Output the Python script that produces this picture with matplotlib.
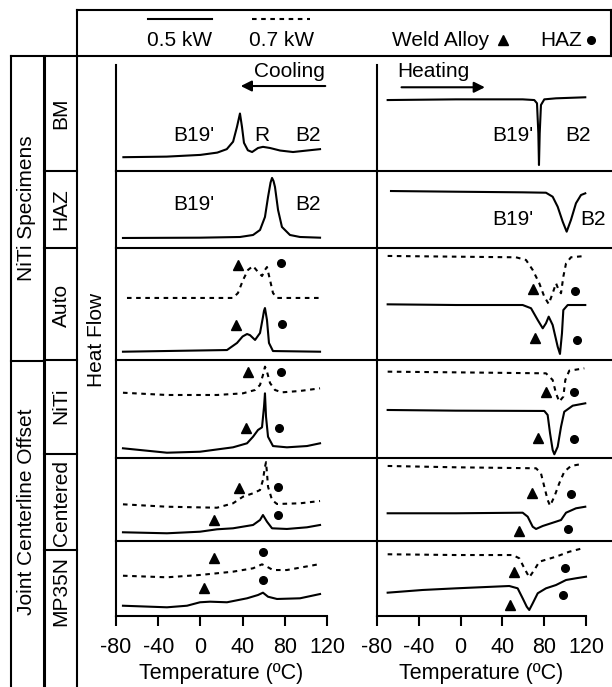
import matplotlib
matplotlib.use("Agg")
import matplotlib.pyplot as plt
from matplotlib.lines import Line2D

plt.rcParams["font.family"] = ["Liberation Sans", "DejaVu Sans"]
plt.rcParams["font.size"] = 15
plt.rcParams["axes.unicode_minus"] = False

# ---- data: temperature (ºC) and relative heat flow (0..1 of the panel) ----
rows = ["BM", "HAZ", "Auto", "NiTi", "Centered", "MP35N"]
temp_ticks = [-80, -40, 0, 40, 80, 120]

# cooling
cool_bm_T = [-73, -32, 0, 16, 25, 31, 34.7, 37.5, 39.4, 41.3, 45, 49, 54.6, 59.3, 66, 75.5, 87.8, 101, 113.4]
cool_bm_q = [0.12, 0.125, 0.14, 0.16, 0.19, 0.255, 0.385, 0.50, 0.385, 0.245, 0.18, 0.165, 0.2, 0.21, 0.2, 0.178, 0.165, 0.178, 0.19]
cool_haz_T = [-73.4, -0.4, 37.5, 49.9, 56.5, 61.2, 64.1, 66.5, 67.9, 69.3, 70.7, 73.6, 77.3, 84.9, 94.4, 113.4]
cool_haz_q = [0.13, 0.134, 0.143, 0.169, 0.234, 0.403, 0.662, 0.85, 0.91, 0.87, 0.792, 0.494, 0.273, 0.169, 0.143, 0.134]
cool_auto7_T = [-69.6, 30.9, 35.6, 40.4, 45.1, 49.9, 54.6, 58.4, 61.2, 63.1, 66, 68.8, 72.6, 113.4]
cool_auto7_q = [0.554, 0.554, 0.598, 0.714, 0.804, 0.839, 0.786, 0.75, 0.804, 0.83, 0.714, 0.598, 0.554, 0.554]
cool_auto5_T = [-73.4, 25.2, 34.7, 40, 44.2, 47, 51.8, 56.5, 59.3, 60.3, 61.2, 63.1, 65, 68.8, 113.4]
cool_auto5_q = [0.074, 0.089, 0.152, 0.21, 0.232, 0.222, 0.179, 0.241, 0.384, 0.44, 0.464, 0.357, 0.152, 0.08, 0.074]
cool_niti7_T = [-73.4, -31.7, 15.7, 40.4, 51.8, 56.5, 59.3, 61.2, 63.1, 66, 70.7, 77.3, 94.4, 113.4]
cool_niti7_q = [0.666, 0.643, 0.643, 0.66, 0.694, 0.745, 0.847, 0.932, 0.881, 0.765, 0.694, 0.67, 0.684, 0.711]
cool_niti5_T = [-73.4, -31.7, -0.4, 30.9, 44.2, 49.9, 54.6, 58.4, 60.3, 61.2, 62.2, 64.1, 68.8, 82, 101, 113.4]
cool_niti5_q = [0.099, 0.054, 0.064, 0.109, 0.15, 0.217, 0.286, 0.313, 0.523, 0.66, 0.421, 0.217, 0.122, 0.109, 0.122, 0.15]
cool_cent7_T = [-73.4, -31.7, 15.7, 30.9, 40.4, 49.9, 56.5, 59.3, 61, 62.2, 63.1, 64.1, 67.9, 72.6, 94.4, 113.4]
cool_cent7_q = [0.442, 0.413, 0.401, 0.454, 0.534, 0.575, 0.614, 0.735, 0.88, 0.95, 0.82, 0.654, 0.494, 0.446, 0.454, 0.482]
cool_cent5_T = [-73.4, -31.7, -0.4, 15.7, 30.9, 49.9, 56.5, 59.3, 63.1, 67.9, 82, 101, 113.4]
cool_cent5_q = [0.105, 0.093, 0.112, 0.141, 0.153, 0.193, 0.253, 0.313, 0.233, 0.153, 0.145, 0.165, 0.193]
cool_mp7_T = [-73.4, -31.7, -0.4, 30.9, 49.9, 58.4, 63.1, 68.8, 82, 113.4]
cool_mp7_q = [0.537, 0.516, 0.547, 0.591, 0.636, 0.689, 0.657, 0.613, 0.613, 0.693]
cool_mp5_T = [-73.4, -31.7, -12.7, -0.4, 9.1, 25.2, 44.2, 54.6, 59.3, 64.1, 72.6, 94.4, 113.4]
cool_mp5_q = [0.137, 0.116, 0.137, 0.183, 0.191, 0.183, 0.236, 0.28, 0.311, 0.257, 0.227, 0.236, 0.293]

# heating
heat_bm_T = [-69.8, -4.4, 59.4, 70.5, 73.1, 74.4, 75, 75.7, 76.9, 80.1, 91.3, 119.3]
heat_bm_q = [0.617, 0.623, 0.623, 0.617, 0.589, 0.328, 0.052, 0.328, 0.574, 0.623, 0.632, 0.641]
heat_haz_T = [-66.6, -4.4, 59.4, 81.7, 88.1, 92.9, 97.7, 101.5, 105.6, 110.4, 115.2, 119.3]
heat_haz_q = [0.74, 0.731, 0.723, 0.718, 0.666, 0.536, 0.342, 0.212, 0.364, 0.581, 0.688, 0.71]
heat_auto7_T = [-69.8, 53, 62.6, 69, 75.3, 80.1, 84.3, 88.1, 91.3, 93.9, 96.1, 98.3, 100.9, 105.6, 119.3]
heat_auto7_q = [0.929, 0.917, 0.893, 0.804, 0.685, 0.565, 0.5, 0.596, 0.685, 0.625, 0.596, 0.744, 0.863, 0.917, 0.929]
heat_auto5_T = [-69.8, -4.4, 59.4, 67.4, 73.8, 78.6, 81.7, 84.3, 88.1, 92.9, 95.1, 97, 98.3, 102.5, 119.3]
heat_auto5_q = [0.497, 0.491, 0.491, 0.462, 0.357, 0.283, 0.328, 0.387, 0.3125, 0.119, 0.054, 0.238, 0.446, 0.491, 0.491]
heat_niti7_T = [-69.8, -4.4, 81.7, 88.1, 91.3, 94.4, 98.3, 100.2, 104, 118.4]
heat_niti7_q = [0.881, 0.874, 0.864, 0.796, 0.66, 0.575, 0.626, 0.796, 0.891, 0.915]
heat_niti5_T = [-69.8, -4.4, 80.1, 83.3, 85.6, 88.1, 89.7, 92.9, 96.1, 99.2, 107.3, 119.3]
heat_niti5_q = [0.49, 0.483, 0.48, 0.439, 0.252, 0.082, 0.038, 0.115, 0.319, 0.472, 0.534, 0.558]
heat_cent7_T = [-69.8, -4.4, 72.2, 76.9, 80.1, 83.3, 85.6, 89.7, 94.4, 99.2, 105.6, 114.3]
heat_cent7_q = [0.904, 0.888, 0.876, 0.816, 0.654, 0.494, 0.425, 0.534, 0.695, 0.835, 0.904, 0.924]
heat_cent5_T = [-69.8, -4.4, 59.4, 64.2, 69, 72.2, 78.6, 91.3, 96.1, 100.9, 110.4, 119.3]
heat_cent5_q = [0.334, 0.334, 0.341, 0.293, 0.172, 0.145, 0.181, 0.233, 0.253, 0.341, 0.394, 0.413]
heat_mp7_T = [-69.8, -4.4, 49.9, 56.2, 61, 65.7, 70.5, 75.3, 91.3, 104, 116.8]
heat_mp7_q = [0.823, 0.813, 0.813, 0.769, 0.636, 0.516, 0.613, 0.724, 0.791, 0.857, 0.903]
heat_mp5_T = [-69.8, -36.3, -4.4, 46.6, 54.6, 59.4, 63.3, 65.7, 69, 73.8, 81.7, 91.3, 100.9, 110.4, 120]
heat_mp5_q = [0.311, 0.347, 0.369, 0.4, 0.369, 0.236, 0.124, 0.08, 0.169, 0.303, 0.369, 0.413, 0.48, 0.503, 0.524]

# weld alloy (triangle) and HAZ (circle) markers: (T, q)
cool_tri = {"Auto": [(35.6, 0.848), (33.7, 0.313)], "NiTi": [(45.1, 0.874), (42.9, 0.303)],
            "Centered": [(36.9, 0.642), (13.2, 0.253)], "MP35N": [(13.2, 0.769), (3.7, 0.369)]}
cool_dot = {"Auto": [(76.4, 0.866), (77.3, 0.321)], "NiTi": [(76.4, 0.874), (74.5, 0.309)],
            "Centered": [(73.3, 0.654), (73.3, 0.313)], "MP35N": [(59.7, 0.849), (59.7, 0.48)]}
heat_tri = {"Auto": [(69, 0.631), (71.5, 0.194)], "NiTi": [(81.7, 0.677), (73.8, 0.201)],
            "Centered": [(68.3, 0.575), (56.2, 0.124)], "MP35N": [(50.8, 0.583), (47.3, 0.147)]}
heat_dot = {"Auto": [(109.5, 0.616), (111.1, 0.179)], "NiTi": [(108.2, 0.677), (108.2, 0.194)],
            "Centered": [(105.6, 0.563), (102.5, 0.148)], "MP35N": [(99.9, 0.636), (97.7, 0.28)]}

cool_curves = {
    "BM": [(cool_bm_T, cool_bm_q, "-")],
    "HAZ": [(cool_haz_T, cool_haz_q, "-")],
    "Auto": [(cool_auto7_T, cool_auto7_q, "--"), (cool_auto5_T, cool_auto5_q, "-")],
    "NiTi": [(cool_niti7_T, cool_niti7_q, "--"), (cool_niti5_T, cool_niti5_q, "-")],
    "Centered": [(cool_cent7_T, cool_cent7_q, "--"), (cool_cent5_T, cool_cent5_q, "-")],
    "MP35N": [(cool_mp7_T, cool_mp7_q, "--"), (cool_mp5_T, cool_mp5_q, "-")],
}
heat_curves = {
    "BM": [(heat_bm_T, heat_bm_q, "-")],
    "HAZ": [(heat_haz_T, heat_haz_q, "-")],
    "Auto": [(heat_auto7_T, heat_auto7_q, "--"), (heat_auto5_T, heat_auto5_q, "-")],
    "NiTi": [(heat_niti7_T, heat_niti7_q, "--"), (heat_niti5_T, heat_niti5_q, "-")],
    "Centered": [(heat_cent7_T, heat_cent7_q, "--"), (heat_cent5_T, heat_cent5_q, "-")],
    "MP35N": [(heat_mp7_T, heat_mp7_q, "--"), (heat_mp5_T, heat_mp5_q, "-")],
}
cool_text = {"BM": [("B19'", -6.7, 0.313), ("R", 58.1, 0.313), ("B2", 102.3, 0.313)],
             "HAZ": [("B19'", -6.7, 0.571), ("B2", 102.3, 0.571)]}
heat_text = {"BM": [("B19'", 49.9, 0.313), ("B2", 112.1, 0.313)],
             "HAZ": [("B19'", 49.9, 0.364), ("B2", 127, 0.364)]}

# ---- layout (pixels) ----
W, H = 612, 687
fig = plt.figure(figsize=(W / 100, H / 100), dpi=100)

def fx(x):
    return x / W

def fy(y):
    return 1 - y / H

def hline(y, x0, x1, lw=1.5):
    fig.add_artist(Line2D([fx(x0), fx(x1)], [fy(y), fy(y)], color="black", lw=lw))

def vline(x, y0, y1, lw=1.5):
    fig.add_artist(Line2D([fx(x), fx(x)], [fy(y0), fy(y1)], color="black", lw=lw))

row_edges = [56, 171, 248, 360, 458, 541, 616]
col_x = [(116, 327), (377, 586)]
dash = (0, (2.2, 2.2))

for j, (curves, tris, dots, texts) in enumerate([(cool_curves, cool_tri, cool_dot, cool_text),
                                                (heat_curves, heat_tri, heat_dot, heat_text)]):
    x0, x1 = col_x[j]
    for i, name in enumerate(rows):
        y0, y1 = row_edges[i], row_edges[i + 1]
        ax = fig.add_axes([fx(x0), fy(y1), (x1 - x0) / W, (y1 - y0) / H])
        ax.set_xlim(-80, 120)
        ax.set_ylim(0, 1)
        ax.patch.set_visible(False)
        for s in ["top", "right", "bottom"]:
            ax.spines[s].set_visible(False)
        ax.spines["left"].set_linewidth(1.5)
        ax.set_yticks([])
        if i == 0:
            ax.spines["left"].set_bounds(0, (y1 - 65) / (y1 - y0))
        for T, q, ls in curves[name]:
            ax.plot(T, q, color="black", lw=1.5, linestyle=ls if ls == "-" else dash, clip_on=False)
        for T, q in tris.get(name, []):
            ax.plot(T, q, marker="^", color="black", ms=7.5, clip_on=False)
        for T, q in dots.get(name, []):
            ax.plot(T, q, marker="o", color="black", ms=5.5, clip_on=False)
        for s, T, q in texts.get(name, []):
            ax.text(T, q, s, ha="center", va="center")
        if i == 0:
            if j == 0:
                ax.text(118, 0.861, "Cooling", ha="right", va="center")
                ax.annotate("", xy=(35.6, 0.739), xytext=(121, 0.739),
                            arrowprops=dict(arrowstyle="-|>", color="black", lw=1.5, mutation_scale=16))
            else:
                ax.text(-60.2, 0.861, "Heating", ha="left", va="center")
                ax.annotate("", xy=(25.9, 0.728), xytext=(-59.2, 0.728),
                            arrowprops=dict(arrowstyle="-|>", color="black", lw=1.5, mutation_scale=16))
        if i == len(rows) - 1:
            ax.spines["bottom"].set_visible(True)
            ax.spines["bottom"].set_linewidth(1.5)
            ax.set_xticks(temp_ticks)
            ax.tick_params(axis="x", direction="out", length=7, width=1.5, pad=8, labelsize=15.5)
            ax.set_xlabel("Temperature (ºC)", fontsize=15.5, labelpad=4)
        else:
            ax.set_xticks([])

# panel separators
for y in row_edges[1:-1]:
    hline(y, 116, 612)

# outer frame / table
hline(10, 77, 611)
hline(56, 11, 611)
vline(611, 10, 56)
vline(77, 10, 687)
vline(44, 56, 687, lw=2.2)
vline(11, 56, 687)
hline(361, 11, 44)
for y in [171, 248, 360, 454, 550]:
    hline(y, 44, 77)

# legend row
fig.add_artist(Line2D([fx(148), fx(212)], [fy(19), fy(19)], color="black", lw=1.5))
fig.add_artist(Line2D([fx(252), fx(310)], [fy(19), fy(19)], color="black", lw=1.5, linestyle=dash))
fig.text(fx(180), fy(40), "0.5 kW", ha="center", va="center")
fig.text(fx(282), fy(40), "0.7 kW", ha="center", va="center")
fig.text(fx(441), fy(40), "Weld Alloy", ha="center", va="center")
fig.add_artist(Line2D([fx(503)], [fy(40)], marker="^", color="black", ms=7.5))
fig.text(fx(561), fy(40), "HAZ", ha="center", va="center")
fig.add_artist(Line2D([fx(591)], [fy(40)], marker="o", color="black", ms=5.5))

# row labels
fig.text(fx(27), fy(208), "NiTi Specimens", rotation=90, ha="center", va="center")
fig.text(fx(27), fy(512), "Joint Centerline Offset", rotation=90, ha="center", va="center")
label_y = [113, 209, 305, 406, 503, 591]
for name, y in zip(rows, label_y):
    fig.text(fx(61), fy(y), name, rotation=90, ha="center", va="center")
fig.text(fx(96), fy(340), "Heat Flow", rotation=90, ha="center", va="center")

fig.savefig("out.png", dpi=100)
